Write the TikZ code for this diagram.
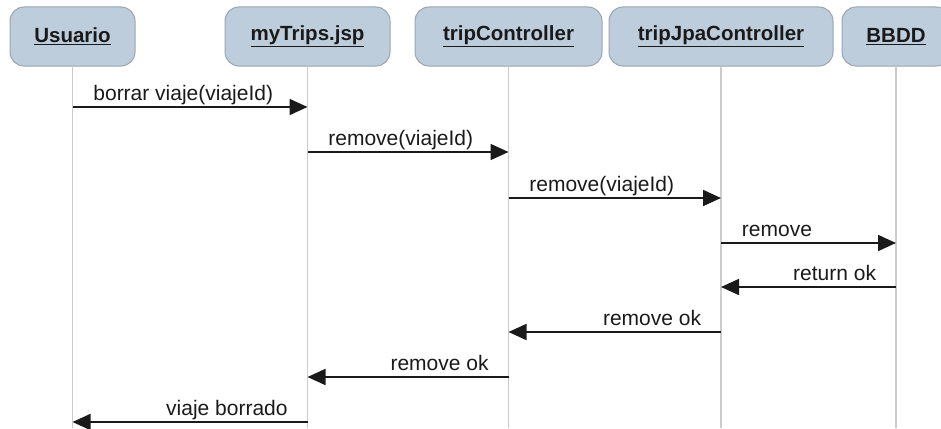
\documentclass[tikz,border=0pt]{standalone}
\usepackage{fontspec}
\setmainfont{Liberation Sans}
\usetikzlibrary{arrows.meta,positioning,calc}
\definecolor{objfill}{HTML}{BDCDDB}
\definecolor{objline}{HTML}{9AA5B0}
\definecolor{lifegray}{HTML}{CCCCCC}
\definecolor{ink}{HTML}{1A1A1A}

\begin{document}
\begin{tikzpicture}[x=1pt, y=-1pt,
  font=\fontsize{21}{25}\selectfont, >={Triangle[length=18pt,width=16pt]},
  obj/.style={draw=objline, fill=objfill, rounded corners=14pt, line width=1pt, minimum height=59pt, inner sep=0pt, text=ink, font=\fontsize{20.5}{24}\selectfont\bfseries},
  life/.style={draw=lifegray, line width=1.2pt},
  msg/.style={->, line width=1.8pt, draw=ink},
  lblr/.style={pos=0, anchor=base west, xshift=20pt, yshift=7pt, inner sep=0pt, text=ink},
  lbll/.style={pos=0, anchor=base east, xshift=-19pt, yshift=7pt, inner sep=0pt, text=ink}]
\useasboundingbox (0,0) rectangle (941,428);
\clip (0,0) rectangle (941,428);
\node[obj, minimum width=125pt] (usr) at (72.5,36.5) {\underline{Usuario}};
\node[obj, minimum width=165pt] (jsp) at (307.5,36.5) {\underline{myTrips.jsp}};
\node[obj, minimum width=187pt] (ctl) at (508.5,36.5) {\underline{tripController}};
\node[obj, minimum width=224pt] (jpa) at (721,36.5) {\underline{tripJpaController}};
\node[obj, minimum width=108pt] (db) at (896,36.5) {\underline{BBDD}};
\foreach \n in {usr,jsp,ctl,jpa,db} \draw[life] (\n.south) -- (\n.south |- 0,428);
% messages
\draw[msg] (usr |- 0,107) -- (jsp |- 0,107) node[lblr] {borrar viaje(viajeId)};
\draw[msg] (jsp |- 0,152) -- (ctl |- 0,152) node[lblr] {remove(viajeId)};
\draw[msg] (ctl |- 0,198) -- (jpa |- 0,198) node[lblr] {remove(viajeId)};
\draw[msg] (jpa |- 0,243) -- (db |- 0,243) node[lblr] {remove};
\draw[msg] (db |- 0,287) -- (jpa |- 0,287) node[lbll] {return ok};
\draw[msg] (jpa |- 0,332) -- (ctl |- 0,332) node[lbll] {remove ok};
\draw[msg] (ctl |- 0,377) -- (jsp |- 0,377) node[lbll] {remove ok};
\draw[msg] (jsp |- 0,422) -- (usr |- 0,422) node[lbll] {viaje borrado};
\end{tikzpicture}
\end{document}
